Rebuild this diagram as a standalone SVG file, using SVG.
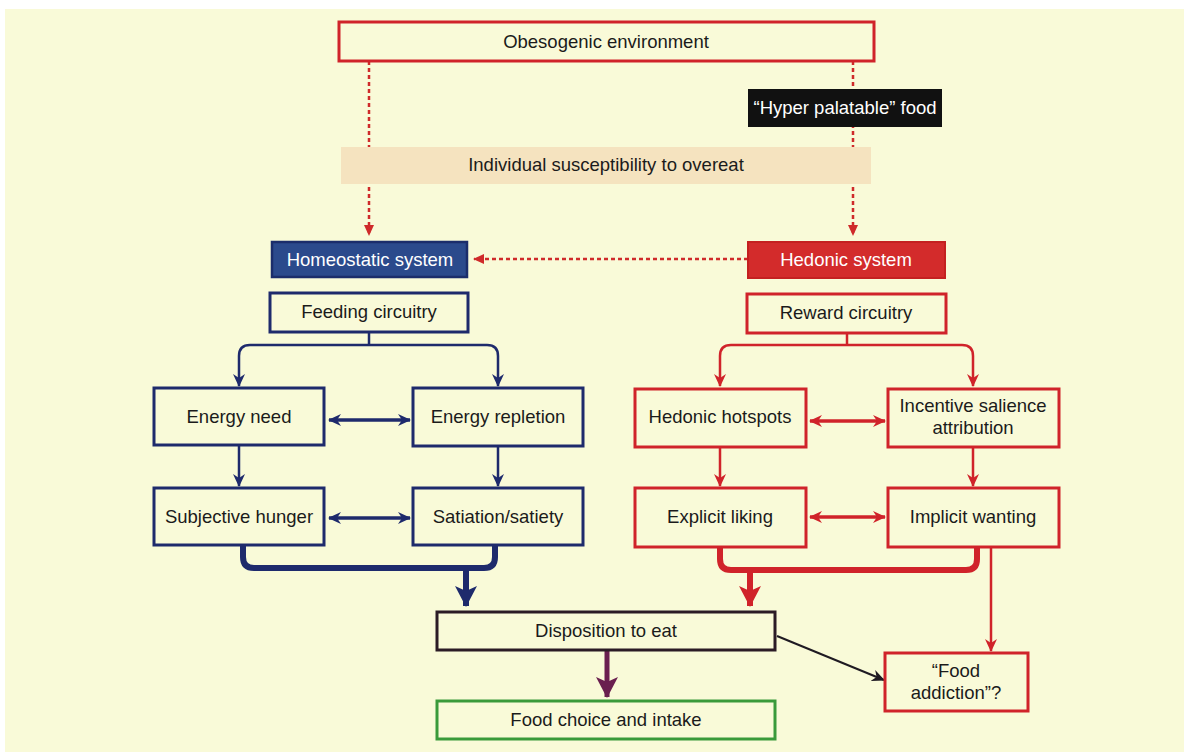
<svg xmlns="http://www.w3.org/2000/svg" width="1184" height="752" viewBox="0 0 1184 752">
  <style>
    text { font-family: "Liberation Sans", Arial, Helvetica, sans-serif; font-size: 18.5px; fill: #1b1b1b; text-anchor: middle; }
    .light { fill: #ffffff; }
    .box { fill: none; stroke-width: 3; }
    .red { stroke: #d0232a; }
    .blue { stroke: #1e2a6c; }
    .dash { fill: none; stroke: #cf2a2a; stroke-width: 2.5; stroke-dasharray: 4 3; }
    .thinB { fill: none; stroke: #1e2a6c; stroke-width: 2.5; }
    .thinR { fill: none; stroke: #d0232a; stroke-width: 2.5; }
    .dblB { fill: none; stroke: #1e2a6c; stroke-width: 3.5; }
    .dblR { fill: none; stroke: #d0232a; stroke-width: 3.5; }
    .thickB { fill: none; stroke: #1e2a6c; stroke-width: 6; }
    .thickR { fill: none; stroke: #d0232a; stroke-width: 6; }
  </style>
  <defs>
    <marker id="dashHead" markerUnits="userSpaceOnUse" markerWidth="12" markerHeight="12" refX="10" refY="6" orient="auto">
      <path d="M0,1 L11,6 L0,11 z" fill="#cf2a2a"/>
    </marker>
    <marker id="headB" markerUnits="userSpaceOnUse" markerWidth="14" markerHeight="14" refX="12" refY="7" orient="auto-start-reverse">
      <path d="M0,1 L13,7 L0,13 L4,7 z" fill="#1e2a6c"/>
    </marker>
    <marker id="headR" markerUnits="userSpaceOnUse" markerWidth="14" markerHeight="14" refX="12" refY="7" orient="auto-start-reverse">
      <path d="M0,1 L13,7 L0,13 L4,7 z" fill="#d0232a"/>
    </marker>
    <marker id="headK" markerUnits="userSpaceOnUse" markerWidth="14" markerHeight="14" refX="12" refY="7" orient="auto">
      <path d="M0,1 L13,7 L0,13 L4,7 z" fill="#1f1a22"/>
    </marker>
    <marker id="bigB" markerUnits="userSpaceOnUse" markerWidth="24" markerHeight="24" refX="20" refY="12" orient="auto">
      <path d="M0,1 L21,12 L0,23 L5,12 z" fill="#1e2a6c"/>
    </marker>
    <marker id="bigR" markerUnits="userSpaceOnUse" markerWidth="24" markerHeight="24" refX="20" refY="12" orient="auto">
      <path d="M0,1 L21,12 L0,23 L5,12 z" fill="#d0232a"/>
    </marker>
    <marker id="bigP" markerUnits="userSpaceOnUse" markerWidth="24" markerHeight="24" refX="20" refY="12" orient="auto">
      <path d="M0,1 L21,12 L0,23 L5,12 z" fill="#6a1f4f"/>
    </marker>
  </defs>

  <!-- page background -->
  <rect x="0" y="0" width="1184" height="752" fill="#ffffff"/>
  <rect x="5" y="9" width="1179" height="743" fill="#f9fad8"/>

  <g id="connectors">
    <!-- environment to the two systems -->
    <path class="dash" d="M369,61 V235" marker-end="url(#dashHead)"/>
    <path class="dash" d="M853,61 V235" marker-end="url(#dashHead)"/>
    <path class="dash" d="M748,259 H474" marker-end="url(#dashHead)"/>

    <!-- feeding circuitry branches -->
    <path class="thinB" d="M369,332 V345"/>
    <path class="thinB" d="M239,386 V356 Q239,345 250,345 H487 Q498,345 498,356 V386" marker-start="url(#headB)" marker-end="url(#headB)"/>
    <!-- reward circuitry branches -->
    <path class="thinR" d="M847,333 V345"/>
    <path class="thinR" d="M720,386 V356 Q720,345 731,345 H962 Q973,345 973,356 V386" marker-start="url(#headR)" marker-end="url(#headR)"/>

    <!-- homeostatic arrows -->
    <path class="dblB" d="M329,420 H410" marker-start="url(#headB)" marker-end="url(#headB)"/>
    <path class="thinB" d="M239,445 V486" marker-end="url(#headB)"/>
    <path class="thinB" d="M498,446 V486" marker-end="url(#headB)"/>
    <path class="dblB" d="M329,518 H410" marker-start="url(#headB)" marker-end="url(#headB)"/>

    <!-- hedonic arrows -->
    <path class="dblR" d="M810,421 H885" marker-start="url(#headR)" marker-end="url(#headR)"/>
    <path class="thinR" d="M720,447 V486" marker-end="url(#headR)"/>
    <path class="thinR" d="M973,447 V486" marker-end="url(#headR)"/>
    <path class="dblR" d="M810,517 H885" marker-start="url(#headR)" marker-end="url(#headR)"/>

    <!-- merging into disposition to eat -->
    <path class="thickB" d="M243,545 V557 Q243,568 254,568 H484 Q495,568 495,557 V545"/>
    <path class="thickB" d="M466,568 V606" marker-end="url(#bigB)"/>
    <path class="thickR" d="M720,547 V559 Q720,570 731,570 H966 Q977,570 977,559 V547"/>
    <path class="thickR" d="M750,570 V606" marker-end="url(#bigR)"/>

    <!-- wanting to food addiction -->
    <path class="thinR" d="M991,547 V651" marker-end="url(#headR)"/>
    <!-- disposition to food addiction -->
    <path fill="none" stroke="#1f1a22" stroke-width="2" d="M777,636 L884,680" marker-end="url(#headK)"/>
    <!-- disposition to intake -->
    <path fill="none" stroke="#6a1f4f" stroke-width="5" d="M607,650 V697" marker-end="url(#bigP)"/>
  </g>

  <g id="obesogenic-environment">
    <rect class="box red" x="339" y="22" width="535" height="39"/>
    <text x="606" y="48">Obesogenic environment</text>
  </g>
  <g id="hyper-palatable-food">
    <rect x="748" y="89" width="194" height="38" fill="#111111"/>
    <text class="light" x="845" y="114">“Hyper palatable” food</text>
  </g>
  <g id="individual-susceptibility">
    <rect x="341" y="147" width="530" height="37" fill="#f5e3bf"/>
    <text x="606" y="171">Individual susceptibility to overeat</text>
  </g>
  <g id="homeostatic-system">
    <rect x="272" y="242" width="195" height="35" fill="#2b4a8c" stroke="#1b2d6b" stroke-width="2.5"/>
    <text class="light" x="370" y="266">Homeostatic system</text>
  </g>
  <g id="hedonic-system">
    <rect x="748" y="242" width="197" height="36" fill="#d32b2b" stroke="#c42020" stroke-width="2"/>
    <text class="light" x="846" y="266">Hedonic system</text>
  </g>
  <g id="feeding-circuitry">
    <rect class="box blue" x="270" y="293" width="198" height="39"/>
    <text x="369" y="318">Feeding circuitry</text>
  </g>
  <g id="reward-circuitry">
    <rect class="box red" x="747" y="294" width="199" height="39"/>
    <text x="846" y="319">Reward circuitry</text>
  </g>
  <g id="energy-need">
    <rect class="box blue" x="154" y="388" width="170" height="57"/>
    <text x="239" y="423">Energy need</text>
  </g>
  <g id="energy-repletion">
    <rect class="box blue" x="413" y="388" width="170" height="58"/>
    <text x="498" y="423">Energy repletion</text>
  </g>
  <g id="subjective-hunger">
    <rect class="box blue" x="154" y="488" width="170" height="57"/>
    <text x="239" y="523">Subjective hunger</text>
  </g>
  <g id="satiation-satiety">
    <rect class="box blue" x="413" y="488" width="170" height="57"/>
    <text x="498" y="523">Satiation/satiety</text>
  </g>
  <g id="hedonic-hotspots">
    <rect class="box red" x="635" y="389" width="171" height="58"/>
    <text x="720" y="423">Hedonic hotspots</text>
  </g>
  <g id="incentive-salience">
    <rect class="box red" x="888" y="389" width="171" height="58"/>
    <text x="973" y="412">Incentive salience</text>
    <text x="973" y="434">attribution</text>
  </g>
  <g id="explicit-liking">
    <rect class="box red" x="635" y="488" width="171" height="59"/>
    <text x="720" y="523">Explicit liking</text>
  </g>
  <g id="implicit-wanting">
    <rect class="box red" x="888" y="488" width="171" height="59"/>
    <text x="973" y="523">Implicit wanting</text>
  </g>
  <g id="disposition-to-eat">
    <rect class="box" stroke="#2b1b25" x="437" y="612" width="338" height="38"/>
    <text x="606" y="637">Disposition to eat</text>
  </g>
  <g id="food-choice-and-intake">
    <rect class="box" stroke="#3a9a3a" x="437" y="701" width="338" height="38"/>
    <text x="606" y="726">Food choice and intake</text>
  </g>
  <g id="food-addiction">
    <rect class="box red" x="885" y="653" width="143" height="58"/>
    <text x="956" y="677">“Food</text>
    <text x="956" y="699">addiction”?</text>
  </g>
</svg>
